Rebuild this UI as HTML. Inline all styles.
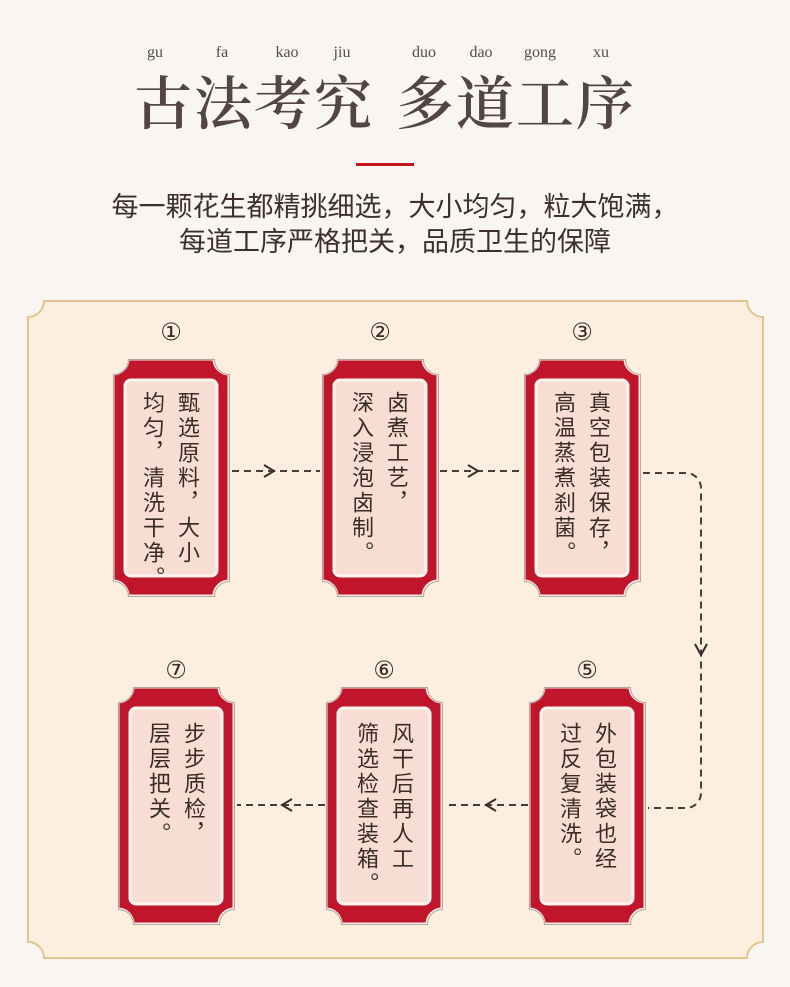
<!DOCTYPE html>
<html><head><meta charset="utf-8"><style>
*{margin:0;padding:0;box-sizing:border-box}
body{width:790px;height:987px;background:#f9f5f2;position:relative;overflow:hidden;font-family:"Liberation Serif","Noto Serif CJK SC",serif}
.py{position:absolute;top:44px;font-size:16px;color:#5a4a47;transform:translateX(-50%)}
.t{position:absolute;top:70px;font-family:"Liberation Serif","Noto Serif CJK SC",serif;font-size:58px;font-weight:600;color:#534545;line-height:70px;letter-spacing:2px}
.sub{position:absolute;left:0;width:790px;text-align:center;font-family:"Liberation Sans","Noto Sans CJK SC",sans-serif;font-size:27px;color:#3d302c;line-height:34px}
.num{position:absolute;font-family:"Liberation Sans","DejaVu Sans",sans-serif;font-size:24px;color:#3a2d28;transform:translateX(-50%)}
.tx{position:absolute;writing-mode:vertical-rl;font-family:"Liberation Sans","Noto Sans CJK SC",sans-serif;font-size:22px;line-height:35px;color:#3a2d28;letter-spacing:3px;white-space:nowrap}
</style></head><body>
<div class="py" style="left:155px">gu</div>
<div class="py" style="left:222px">fa</div>
<div class="py" style="left:287px">kao</div>
<div class="py" style="left:342px">jiu</div>
<div class="py" style="left:424px">duo</div>
<div class="py" style="left:481px">dao</div>
<div class="py" style="left:540px">gong</div>
<div class="py" style="left:601px">xu</div>
<div class="t" style="left:134px">古法考究</div>
<div class="t" style="left:396px">多道工序</div>
<div style="position:absolute;left:356px;top:163px;width:58px;height:3px;background:#c3161c"></div>
<div class="sub" style="top:190px">每一颗花生都精挑细选，大小均匀，粒大饱满，</div>
<div class="sub" style="top:225px">每道工序严格把关，品质卫生的保障</div>

<svg width="790" height="987" style="position:absolute;left:0;top:0">
<defs>
<symbol id="card" viewBox="0 0 118 239" width="118" height="239">
<path d="M16,1 H102 A15,15 0 0 0 117,16 V223 A15,15 0 0 0 102,238 H16 A15,15 0 0 0 1,223 V16 A15,15 0 0 0 16,1 Z" fill="#c0152b" stroke="#f3ece6" stroke-width="3"/>
<path d="M16,1 H102 A15,15 0 0 0 117,16 V223 A15,15 0 0 0 102,238 H16 A15,15 0 0 0 1,223 V16 A15,15 0 0 0 16,1 Z" fill="none" stroke="#b7a79c" stroke-width="1" transform="translate(0.5,0.5)"/>
<rect x="13" y="22" width="92" height="196" rx="6" fill="#f8ddd3" stroke="#fbf3ef" stroke-width="3"/>
</symbol>
</defs>
<path d="M44,301 H747 A16,16 0 0 0 763,317 V942 A16,16 0 0 0 747,958 H44 A16,16 0 0 0 28,942 V317 A16,16 0 0 0 44,301 Z" fill="#fcefdf" stroke="#e3c48f" stroke-width="2"/>
<g stroke="#4a3d3a" stroke-width="2" fill="none" stroke-dasharray="7,5">
<path d="M232,471 H320"/>
<path d="M440,471 H523"/>
<path d="M643,473 H686 A15,15 0 0 1 701,488 V793 A15,15 0 0 1 686,808 H648"/>
<path d="M528,805 H445"/>
<path d="M325,805 H237"/>
</g>
<g stroke="#3a2d28" stroke-width="2" fill="none">
<path d="M264,465 L274,471 L264,477"/>
<path d="M468,465 L478,471 L468,477"/>
<path d="M695,644 L701,655 L707,644"/>
<path d="M496,799 L486,805 L496,811"/>
<path d="M292,799 L282,805 L292,811"/>
</g>
<use href="#card" x="112" y="358"/>
<use href="#card" x="321" y="358"/>
<use href="#card" x="523" y="358"/>
<use href="#card" x="117" y="686"/>
<use href="#card" x="325" y="686"/>
<use href="#card" x="528" y="686"/>
</svg>
<div class="num" style="left:171px;top:318px">①</div>
<div class="num" style="left:380px;top:318px">②</div>
<div class="num" style="left:582px;top:318px">③</div>
<div class="num" style="left:176px;top:656px">⑦</div>
<div class="num" style="left:384px;top:656px">⑥</div>
<div class="num" style="left:587px;top:656px">⑤</div>
<div class="tx" style="left:135px;top:391px">甄选原料，大小<br>均匀，清洗干净。</div>
<div class="tx" style="left:344px;top:391px">卤煮工艺，<br>深入浸泡卤制。</div>
<div class="tx" style="left:546px;top:391px">真空包装保存，<br>高温蒸煮刹菌。</div>
<div class="tx" style="left:141px;top:722px">步步质检，<br>层层把关。</div>
<div class="tx" style="left:349px;top:722px">风干后再人工<br>筛选检查装箱。</div>
<div class="tx" style="left:552px;top:722px">外包装袋也经<br>过反复清洗。</div>
</body></html>
